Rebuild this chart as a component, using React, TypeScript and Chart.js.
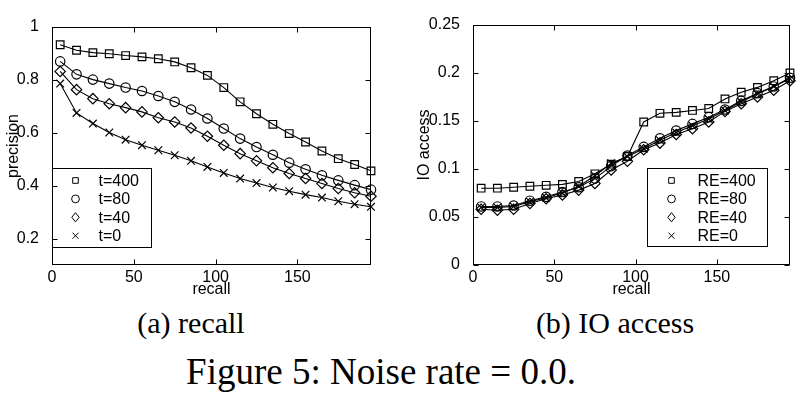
import React, { useEffect, useRef } from 'react';
import { Chart, registerables } from 'chart.js';

Chart.register(...registerables);

// ---------- data ----------
const recall = [5, 15, 25, 35, 45, 55, 65, 75, 85, 95, 105, 115, 125, 135, 145, 155, 165, 175, 185, 195];

const precisionT400 = [0.933, 0.912, 0.903, 0.899, 0.892, 0.887, 0.880, 0.868, 0.846, 0.817, 0.771, 0.717, 0.672, 0.632, 0.597, 0.565, 0.531, 0.502, 0.480, 0.456];
const precisionT80 = [0.870, 0.821, 0.801, 0.786, 0.771, 0.758, 0.739, 0.717, 0.688, 0.654, 0.616, 0.578, 0.546, 0.517, 0.487, 0.462, 0.439, 0.420, 0.402, 0.385];
const precisionT40 = [0.832, 0.763, 0.729, 0.710, 0.695, 0.679, 0.657, 0.641, 0.618, 0.587, 0.553, 0.521, 0.494, 0.468, 0.446, 0.427, 0.408, 0.389, 0.373, 0.360];
const precisionT0 = [0.786, 0.675, 0.635, 0.601, 0.574, 0.553, 0.534, 0.515, 0.494, 0.471, 0.448, 0.427, 0.410, 0.393, 0.379, 0.366, 0.355, 0.341, 0.330, 0.320];

const ioRE400 = [0.080, 0.080, 0.081, 0.082, 0.083, 0.084, 0.087, 0.095, 0.105, 0.113, 0.149, 0.158, 0.159, 0.161, 0.163, 0.173, 0.180, 0.185, 0.192, 0.200];
const ioRE80 = [0.061, 0.061, 0.062, 0.067, 0.071, 0.076, 0.081, 0.090, 0.103, 0.114, 0.123, 0.132, 0.140, 0.147, 0.154, 0.162, 0.171, 0.179, 0.186, 0.195];
const ioRE40 = [0.058, 0.057, 0.058, 0.064, 0.069, 0.073, 0.078, 0.085, 0.099, 0.108, 0.120, 0.127, 0.136, 0.142, 0.149, 0.160, 0.168, 0.175, 0.182, 0.192];
const ioRE0 = [0.060, 0.060, 0.061, 0.066, 0.070, 0.075, 0.082, 0.093, 0.106, 0.113, 0.121, 0.130, 0.138, 0.145, 0.152, 0.161, 0.170, 0.178, 0.186, 0.194];

const recallTicks = [0, 50, 100, 150];
const precisionTicks = [0.2, 0.4, 0.6, 0.8, 1];
const ioTicks = [0, 0.05, 0.1, 0.15, 0.2, 0.25];

const leftLabels = ['t=400', 't=80', 't=40', 't=0'];
const rightLabels = ['RE=400', 'RE=80', 'RE=40', 'RE=0'];

// ---------- styling ----------
const SANS = '"Liberation Sans", Arial, Helvetica, sans-serif';
const SERIF = '"Liberation Serif", "Times New Roman", serif';
const styles = ['rect', 'circle', 'rectRot', 'crossRot'];
const radii = [5.4, 4.7, 5.2, 5.4];

function drawMarker(ctx: CanvasRenderingContext2D, style: string, x: number, y: number) {
  ctx.beginPath();
  if (style === 'rect') {
    ctx.rect(x - 2.8, y - 2.8, 5.6, 5.6);
  } else if (style === 'circle') {
    ctx.arc(x, y, 3.9, 0, Math.PI * 2);
  } else if (style === 'rectRot') {
    ctx.moveTo(x, y - 4.6);
    ctx.lineTo(x + 3.7, y);
    ctx.lineTo(x, y + 4.6);
    ctx.lineTo(x - 3.7, y);
    ctx.closePath();
  } else {
    ctx.moveTo(x - 3, y - 3);
    ctx.lineTo(x + 3, y + 3);
    ctx.moveTo(x + 3, y - 3);
    ctx.lineTo(x - 3, y + 3);
  }
  ctx.stroke();
}

const framePlugin = {
  id: 'matlabFrame',
  afterDraw(chart: any, _args: any, opts: any) {
    const { ctx, chartArea: a, scales } = chart;
    ctx.save();
    ctx.strokeStyle = '#000';
    ctx.lineWidth = 1;

    // legend box inside axes
    const lg = opts.legend;
    if (lg) {
      const bx = Math.round(a.left + lg.dx) + 0.5;
      const by = Math.round(a.top + lg.dy) + 0.5;
      ctx.fillStyle = '#fff';
      ctx.fillRect(bx, by, lg.w, lg.h);
      ctx.strokeRect(bx, by, lg.w, lg.h);
      ctx.font = `16px ${SANS}`;
      ctx.textBaseline = 'middle';
      ctx.textAlign = 'left';
      chart.data.datasets.forEach((ds: any, i: number) => {
        const ry = by + lg.row0 + i * lg.rowGap;
        ctx.strokeStyle = '#000';
        ctx.lineWidth = 1;
        drawMarker(ctx, ds.pointStyle, bx + lg.markerDx, ry);
        ctx.fillStyle = '#000';
        ctx.fillText(ds.label, bx + lg.textDx, ry + 1);
      });
    }

    // axes frame
    const L = Math.round(a.left) + 0.5;
    const R = Math.round(a.right) - 0.5;
    const T = Math.round(a.top) + 0.5;
    const B = Math.round(a.bottom) - 0.5;
    ctx.strokeStyle = '#000';
    ctx.lineWidth = 1;
    ctx.strokeRect(L, T, R - L, B - T);

    // inward ticks on all four sides
    const tl = 5;
    ctx.beginPath();
    scales.x.ticks.forEach((t: any) => {
      const px = Math.round(scales.x.getPixelForValue(t.value)) + 0.5;
      ctx.moveTo(px, B);
      ctx.lineTo(px, B - tl);
      ctx.moveTo(px, T);
      ctx.lineTo(px, T + tl);
    });
    scales.y.ticks.forEach((t: any) => {
      const py = Math.round(scales.y.getPixelForValue(t.value)) + 0.5;
      ctx.moveTo(L, py);
      ctx.lineTo(L + tl, py);
      ctx.moveTo(R, py);
      ctx.lineTo(R - tl, py);
    });
    ctx.stroke();
    ctx.restore();
  },
};

function fmt(v: number) {
  return String(Number(v.toFixed(3)));
}

function makeConfig(p: {
  series: number[][];
  labels: string[];
  yMin: number;
  yMax: number;
  yTicks: number[];
  yTitle: string;
  axisWidth: number;
  padTop: number;
  padRight: number;
  yTitlePad: number;
  legend: any;
}): any {
  return {
    type: 'line',
    data: {
      datasets: p.series.map((arr, i) => ({
        label: p.labels[i],
        data: recall.map((x, j) => ({ x, y: arr[j] })),
        borderColor: '#000',
        borderWidth: 1.1,
        backgroundColor: 'rgba(0,0,0,0)',
        pointStyle: styles[i],
        pointRadius: radii[i],
        pointBorderColor: '#000',
        pointBackgroundColor: 'rgba(0,0,0,0)',
        pointBorderWidth: 1.2,
        tension: 0,
        clip: false,
      })),
    },
    options: {
      animation: false,
      responsive: false,
      events: [],
      layout: { padding: { top: p.padTop, right: p.padRight, left: 0, bottom: 0 } },
      plugins: {
        legend: { display: false },
        tooltip: { enabled: false },
        matlabFrame: { legend: p.legend },
      },
      scales: {
        x: {
          type: 'linear',
          min: 0,
          max: 195,
          grid: { display: false },
          border: { display: false },
          afterBuildTicks: (s: any) => {
            s.ticks = recallTicks.map((v) => ({ value: v }));
          },
          afterFit: (s: any) => {
            s.height = 35;
          },
          ticks: {
            color: '#000',
            font: { family: SANS, size: 16 },
            padding: -5,
            maxRotation: 0,
            autoSkip: false,
            callback: (v: any) => fmt(Number(v)),
          },
          title: {
            display: true,
            text: 'recall',
            color: '#000',
            font: { family: SANS, size: 16, lineHeight: 1.2 },
            padding: { top: 0, bottom: 1 },
          },
        },
        y: {
          type: 'linear',
          min: p.yMin,
          max: p.yMax,
          grid: { display: false },
          border: { display: false },
          afterBuildTicks: (s: any) => {
            s.ticks = p.yTicks.map((v) => ({ value: v }));
          },
          afterFit: (s: any) => {
            s.width = p.axisWidth;
          },
          ticks: {
            color: '#000',
            font: { family: SANS, size: 16 },
            padding: 5,
            autoSkip: false,
            callback: (v: any) => fmt(Number(v)),
          },
          title: {
            display: true,
            text: p.yTitle,
            color: '#000',
            font: { family: SANS, size: 16, lineHeight: 1.2 },
            padding: { top: p.yTitlePad, bottom: 0 },
          },
        },
      },
    },
    plugins: [framePlugin],
  };
}

function ChartCanvas(props: { config: any; left: number; width: number; height: number }) {
  const ref = useRef<HTMLCanvasElement | null>(null);
  useEffect(() => {
    if (!ref.current) return;
    const chart = new Chart(ref.current, props.config);
    return () => chart.destroy();
  }, []);
  return (
    <canvas
      ref={ref}
      width={props.width}
      height={props.height}
      style={{ position: 'absolute', left: props.left, top: 0, width: props.width, height: props.height }}
    />
  );
}

const leftConfig = makeConfig({
  series: [precisionT400, precisionT80, precisionT40, precisionT0],
  labels: leftLabels,
  yMin: 0.1,
  yMax: 1,
  yTicks: precisionTicks,
  yTitle: 'precision',
  axisWidth: 52,
  padTop: 27,
  padRight: 29,
  yTitlePad: 4,
  legend: { dx: 0, dy: 141, w: 99, h: 79, markerDx: 23, textDx: 46, row0: 12, rowGap: 18.4 },
});

const rightConfig = makeConfig({
  series: [ioRE400, ioRE80, ioRE40, ioRE0],
  labels: rightLabels,
  yMin: 0,
  yMax: 0.25,
  yTicks: ioTicks,
  yTitle: 'IO access',
  axisWidth: 63,
  padTop: 25,
  padRight: 18,
  yTitlePad: 5,
  legend: { dx: 174, dy: 143, w: 120, h: 78, markerDx: 24, textDx: 50, row0: 12, rowGap: 18.4 },
});

function Caption(props: { text: string; cx: number; cy: number; size: number }) {
  return (
    <div
      style={{
        position: 'absolute',
        left: props.cx,
        top: props.cy,
        transform: 'translate(-50%, -50%)',
        fontFamily: SERIF,
        fontSize: props.size,
        lineHeight: 1,
        whiteSpace: 'nowrap',
        color: '#000',
      }}
    >
      {props.text}
    </div>
  );
}

export default function App() {
  return (
    <div
      style={{
        position: 'absolute',
        left: 0,
        top: 0,
        width: 808,
        height: 398,
        background: '#fff',
        overflow: 'hidden',
      }}
    >
      <ChartCanvas config={leftConfig} left={0} width={400} height={300} />
      <ChartCanvas config={rightConfig} left={410} width={398} height={300} />
      <Caption text="(a) recall" cx={191} cy={323} size={30} />
      <Caption text="(b) IO access" cx={615} cy={323} size={30} />
      <Caption text="Figure 5: Noise rate = 0.0." cx={381} cy={371} size={37} />
    </div>
  );
}
